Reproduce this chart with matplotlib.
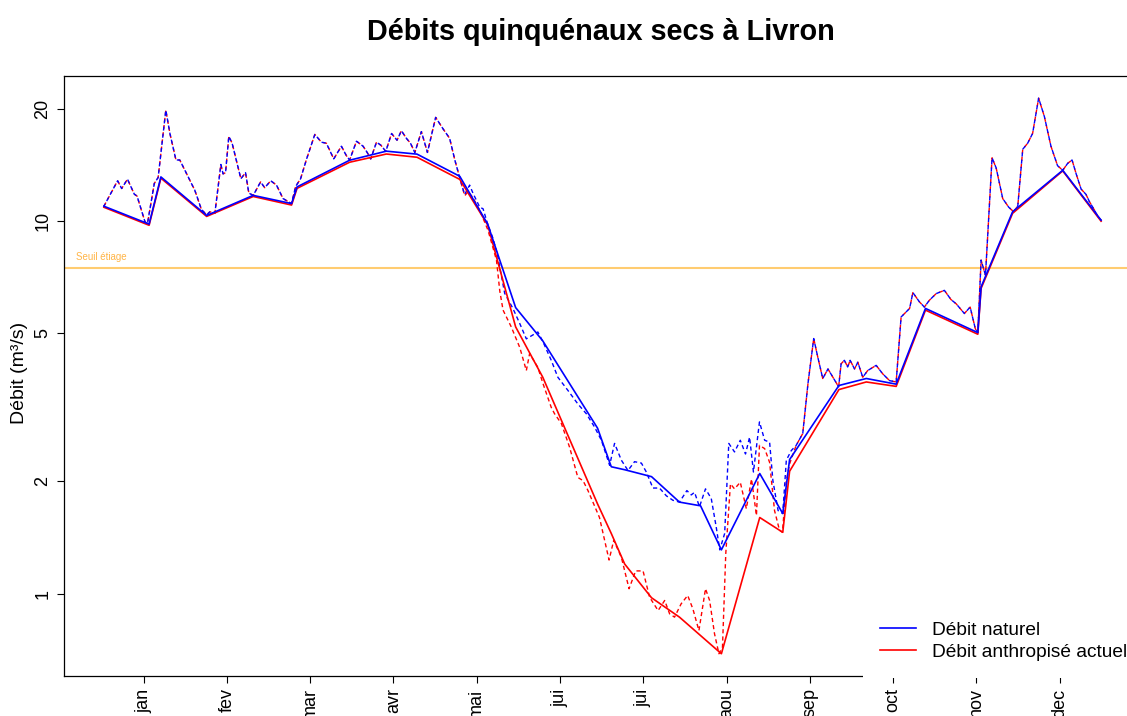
import matplotlib
matplotlib.use("Agg")
import matplotlib.pyplot as plt
from matplotlib.lines import Line2D

plt.rcParams['font.family'] = ['Liberation Sans', 'DejaVu Sans']

# Débits quinquénaux secs (m3/s) aux pas de calcul
jours_qmna = [1, 17.5, 21.8, 38.5, 55.5, 69.5, 71.5, 90.7, 104.1, 115.3, 130.9,
              141.1, 151.3, 161.2, 181.2, 186.2, 191.1, 200.9, 211.1, 218.8,
              226.4, 240.4, 248.8, 251.3, 269.3, 279.3, 290.2, 300.9, 320.0,
              321.2, 332.7, 351.0, 365]
q_naturel = [10.97, 9.82, 13.15, 10.36, 11.73, 11.15, 12.36, 14.58, 15.42, 15.14,
             13.2, 9.82, 5.86, 4.77, 2.78, 2.19, 2.15, 2.06, 1.76, 1.72,
             1.31, 2.10, 1.64, 2.29, 3.62, 3.78, 3.65, 5.83, 5.02,
             6.66, 10.6, 13.7, 10.06]
q_anthropise = [10.9, 9.75, 13.05, 10.3, 11.65, 11.05, 12.25, 14.4, 15.15, 14.85,
                12.95, 9.77, 5.2, 3.81, 1.74, 1.45, 1.20, 0.974, 0.864, 0.771,
                0.689, 1.60, 1.46, 2.13, 3.53, 3.70, 3.60, 5.77, 4.97,
                6.6, 10.5, 13.65, 10.0]

# Débits journaliers : hiver-printemps (identiques pour les deux régimes)
jours_hiver = [1.0, 6.0, 7.5, 9.6, 12.1, 13.1, 16.0, 16.9, 19.4, 20.8, 23.6, 25.1,
               27.3, 28.7, 31.2, 34.2, 36.6, 38.5, 39.7, 41.5, 43.7, 44.5, 45.4,
               46.6, 47.8, 51.0, 52.7, 53.9, 55.5, 58.2, 59.7, 61.9, 64.0, 66.4,
               69.5, 71.0, 72.8, 75.0, 78.0, 80.4, 82.2, 84.9, 87.7, 89.5, 90.7,
               93.2, 95.6, 97.1, 98.4, 100.5, 102.1, 103.9, 106.0, 108.0, 109.6,
               111.4, 112.9, 114.5, 116.9, 119.1, 122.1, 124.8, 127.2, 129.1, 131.5]
q_hiver = [10.97, 12.84, 12.24, 12.97, 11.82, 11.68, 9.96, 9.85, 12.63, 13.1, 19.87,
           17.2, 14.6, 14.6, 13.4, 12.1, 10.75, 10.4, 10.6, 10.5, 14.2, 13.4, 13.5,
           16.9, 16.2, 13.0, 13.5, 11.9, 11.73, 12.75, 12.3, 12.84, 12.5, 11.5,
           11.15, 12.4, 13.0, 14.7, 17.1, 16.3, 16.2, 14.7, 15.9, 15.0, 14.6,
           16.4, 15.9, 15.3, 14.7, 16.3, 16.0, 15.4, 17.2, 16.5, 17.5,
           16.7, 16.2, 15.3, 17.4, 15.3, 19.0, 17.7, 16.7, 14.6, 12.6]

# Débits journaliers : été (régime naturel)
jours_nat_ete = [132.7, 134.5, 135.7, 138.2, 139.4, 141.1, 143.0, 144.7, 147.3, 150.3,
                 152.8, 155.2, 159.4, 161.3, 164.3, 166.7, 170.4, 174.0, 177.1,
                 180.1, 182.6, 185.6, 187.4, 189.9, 192.3, 194.7, 197.2, 199.0,
                 201.4, 203.8, 206.3, 208.7, 211.1, 213.8, 215.4, 216.6, 218.4,
                 220.6, 222.7, 224.5, 225.8, 227.6, 229.1, 231.2, 233.3, 235.2,
                 236.7, 238.1, 240.3, 242.2, 244.0, 245.2, 247.1, 248.8, 250.1,
                 251.9]
q_nat_ete = [11.8, 12.5, 11.9, 10.9, 10.8, 9.82, 9.0, 8.1, 6.4, 5.83,
             5.31, 4.83, 5.04, 4.74, 4.23, 3.81, 3.51, 3.23, 3.04,
             2.80, 2.58, 2.21, 2.53, 2.28, 2.14, 2.26, 2.24, 2.12,
             1.92, 1.92, 1.83, 1.78, 1.76, 1.89, 1.84, 1.87, 1.71,
             1.91, 1.80, 1.51, 1.31, 1.45, 2.53, 2.40, 2.58, 2.37,
             2.63, 2.12, 2.89, 2.58, 2.55, 2.01, 1.67, 1.64, 2.28,
             2.42]

# Débits journaliers : été (régime anthropisé actuel)
jours_ant_ete = [132.7, 133.9, 135.6, 138.2, 141.2, 142.4, 144.3, 145.5, 146.7, 149.7,
                 152.8, 155.2, 156.4, 159.4, 161.3, 164.3, 165.5, 168.0, 171.0,
                 174.0, 175.9, 177.7, 180.1, 181.9, 185.4, 187.1, 189.9, 192.7,
                 195.1, 197.8, 200.2, 203.3, 205.7, 207.5, 209.3, 211.7, 214.1,
                 216.0, 218.2, 220.6, 222.1, 223.9, 225.5, 226.8, 228.0, 229.7,
                 231.2, 233.3, 235.5, 237.4, 239.2, 240.3, 242.2, 244.0, 245.8,
                 247.6, 248.7, 250.1, 251.3]
q_ant_ete = [11.7, 12.0, 11.6, 10.7, 9.46, 8.8, 7.86, 6.5, 5.77, 5.2,
             4.58, 3.97, 4.41, 4.05, 3.66, 3.16, 3.04, 2.86, 2.47,
             2.05, 2.01, 1.89, 1.72, 1.60, 1.23, 1.39, 1.25, 1.03,
             1.15, 1.15, 0.977, 0.90, 0.958, 0.882, 0.864, 0.938, 0.988,
             0.909, 0.795, 1.03, 0.958, 0.779, 0.689, 0.718, 1.28, 1.97,
             1.91, 1.99, 1.69, 2.03, 1.62, 2.50, 2.45, 2.25, 1.67,
             1.48, 1.46, 2.0, 2.23]

# Débits journaliers : automne (identiques pour les deux régimes)
jours_automne = [253.7, 256.1, 258.0, 260.1, 261.6, 263.4, 265.3, 267.1, 269.2,
                 270.1, 271.3, 272.5, 273.4, 275.0, 276.2, 278.0, 279.8, 282.9,
                 285.3, 287.8, 290.2, 292.0, 295.1, 296.3, 298.7, 300.5, 302.3,
                 304.8, 307.8, 310.2, 312.1, 315.1, 317.2, 319.1, 320.0, 321.2,
                 322.8, 325.2, 326.7, 329.1, 331.3, 333.1, 334.6, 336.4, 338.2,
                 340.0, 342.2, 344.3, 346.7, 349.1, 351.0, 352.8, 354.4, 355.9,
                 357.7, 359.5, 360.7, 362.6, 363.8, 365.0]
q_automne = [2.50, 2.69, 3.66, 4.84, 4.31, 3.78, 4.01, 3.81, 3.59,
             4.14, 4.23, 4.06, 4.23, 4.01, 4.18, 3.81, 3.97, 4.10,
             3.89, 3.73, 3.70, 5.53, 5.83, 6.43, 6.07, 5.88, 6.13,
             6.39, 6.52, 6.16, 6.0, 5.65, 5.88, 5.14, 5.02, 7.86,
             7.16, 14.8, 13.9, 11.5, 10.9, 10.6, 11.0, 15.6, 16.2,
             17.2, 21.4, 19.1, 15.9, 14.1, 13.7, 14.3, 14.6, 13.4,
             12.2, 11.8, 11.3, 10.7, 10.3, 10.06]

seuil_etiage = 7.5

mois_pos = [15.5, 45.9, 76.3, 106.7, 137.1, 167.5, 197.9, 228.3, 258.7, 289.1, 319.5, 349.9]
mois_lab = ['jan', 'fev', 'mar', 'avr', 'mai', 'jui', 'jui', 'aou', 'sep', 'oct', 'nov', 'dec']

fig = plt.figure(figsize=(11.27, 7.16), dpi=100)
ax = fig.add_axes([0.0568, 0.0559, 0.9556, 0.838])

jours_nat = jours_hiver + jours_nat_ete + jours_automne
debit_nat = q_hiver + q_nat_ete + q_automne
jours_ant = jours_hiver + jours_ant_ete + jours_automne
debit_ant = q_hiver + q_ant_ete + q_automne

ax.axhline(seuil_etiage, color='#FFCC70', lw=1.5, zorder=1)
ax.text(-9.2, seuil_etiage * 1.035, 'Seuil étiage', color='#FFB547', fontsize=7,
        ha='left', va='bottom')

# pointillés décalés pour que les deux courbes restent visibles quand elles se confondent
ax.plot(jours_ant, debit_ant, color='red', lw=1.0, ls=(0, (3, 2.2)), zorder=2)
ax.plot(jours_nat, debit_nat, color='blue', lw=1.0, ls=(1.0, (3, 2.2)), zorder=3)
ax.plot(jours_qmna, q_anthropise, color='red', lw=1.2, zorder=4)
ax.plot(jours_qmna, q_naturel, color='blue', lw=1.2, zorder=4)

ax.set_yscale('log')
ax.set_xlim(-13.56, 379.56)
ax.set_ylim(0.6005, 24.55)
ax.set_yticks([1, 2, 5, 10, 20])
ax.set_yticklabels(['1', '2', '5', '10', '20'], rotation=90, va='center')
ax.yaxis.set_minor_locator(matplotlib.ticker.NullLocator())
ax.set_xticks(mois_pos)
ax.set_xticklabels(mois_lab, rotation=90, va='top')
ax.tick_params(axis='both', direction='out', length=5, width=0.8, labelsize=13)
ax.tick_params(axis='y', pad=4)
ax.tick_params(axis='x', pad=4)
for s in ax.spines.values():
    s.set_linewidth(0.9)

fig.text(20 / 1127, 1 - 373 / 716, 'Débit (m³/s)', rotation=90, ha='center',
         va='center', fontsize=14)
fig.text(601 / 1127, 1 - 32 / 716, 'Débits quinquénaux secs à Livron',
         ha='center', va='center', fontsize=20.8, fontweight='bold')

handles = [Line2D([], [], color='blue', lw=1.2), Line2D([], [], color='red', lw=1.2)]
leg = ax.legend(handles, ['Débit naturel', 'Débit anthropisé actuel'],
                loc='lower right', bbox_to_anchor=(1.0028, -0.004), frameon=True,
                facecolor='white', edgecolor='none', framealpha=1, fancybox=False,
                fontsize=13.8, borderpad=0.9, handlelength=1.9,
                handletextpad=0.8, labelspacing=0.27, borderaxespad=0)
leg.set_zorder(6)

fig.savefig('out.png', dpi=100)
